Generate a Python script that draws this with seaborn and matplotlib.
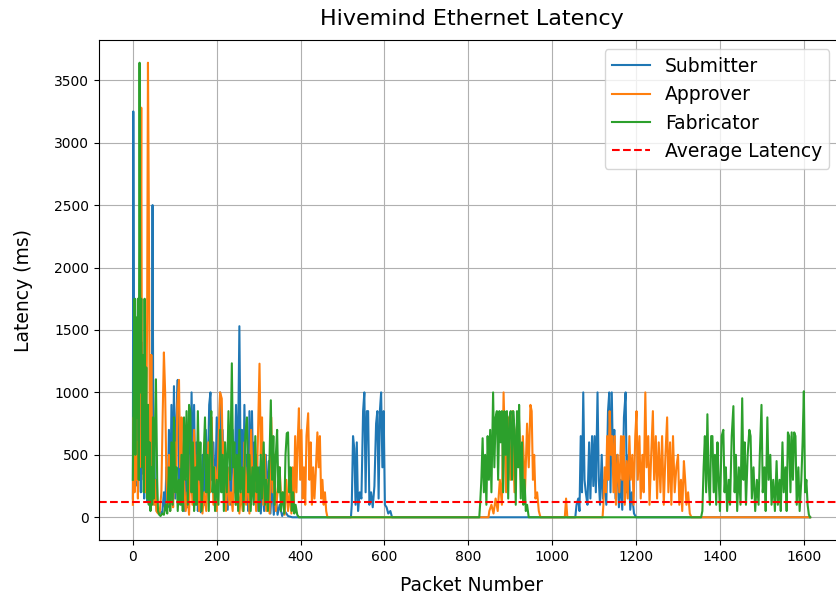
import matplotlib
matplotlib.use("Agg")
import matplotlib.pyplot as plt
import seaborn as sns
import pandas as pd

# (packet number, latency ms) samples
submitter_points = [
    (0, 150), (1, 3250), (3, 900), (5, 1750), (7, 400), (9, 1200), (11, 250), (13, 1600), (15, 300), (17, 900),
    (19, 200), (21, 1400), (23, 350), (25, 800), (27, 150), (29, 1100), (31, 300), (33, 600), (35, 120), (37, 900),
    (39, 200), (41, 500), (43, 150), (45, 400), (47, 2500), (49, 300), (51, 600), (53, 100), (55, 300), (57, 50),
    (60, 40), (63, 30), (66, 40), (70, 30), (74, 200), (77, 60), (80, 400), (83, 80), (86, 700), (89, 100),
    (92, 900), (95, 200), (98, 1050), (101, 150), (104, 800), (107, 1100), (110, 300), (113, 600), (116, 100),
    (119, 400), (122, 50), (126, 300), (130, 80), (134, 850), (137, 200), (140, 1000), (143, 300), (146, 900),
    (149, 100), (152, 600), (155, 50), (158, 300), (162, 40), (166, 500), (170, 100), (174, 700), (178, 200),
    (182, 900), (185, 1000), (188, 300), (192, 600), (196, 100), (200, 800), (204, 200), (208, 1000), (211, 400),
    (214, 700), (218, 100), (222, 500), (226, 60), (230, 400), (234, 100), (238, 700), (242, 200), (246, 900),
    (250, 300), (254, 1530), (257, 400), (260, 700), (263, 100), (266, 900), (269, 300), (272, 500), (275, 50),
    (278, 850), (281, 200), (284, 850), (287, 300), (290, 600), (293, 100), (296, 500), (299, 50), (302, 400),
    (305, 30), (309, 300), (313, 50), (317, 500), (320, 100), (324, 450), (328, 30), (332, 300), (336, 20),
    (340, 200), (345, 20), (350, 100), (356, 10), (362, 50), (370, 10), (380, 0), (520, 0),
    (522, 100), (525, 650), (528, 550), (531, 100), (534, 600), (537, 50), (541, 200), (545, 150), (549, 850),
    (552, 1000), (555, 200), (558, 850), (561, 850), (564, 100), (568, 200), (572, 80), (576, 250), (580, 750),
    (583, 850), (586, 150), (589, 850), (592, 1000), (595, 400), (598, 850), (601, 100), (605, 80), (609, 30),
    (614, 50), (618, 0), (1055, 0),
    (1058, 100), (1062, 150), (1065, 50), (1068, 650), (1071, 200), (1074, 1000), (1077, 300), (1080, 200),
    (1084, 100), (1088, 600), (1091, 150), (1095, 650), (1098, 250), (1101, 650), (1104, 200), (1108, 1000),
    (1111, 300), (1114, 100), (1118, 500), (1121, 150), (1125, 300), (1129, 100), (1133, 850), (1136, 1000),
    (1139, 200), (1142, 1000), (1145, 400), (1148, 700), (1151, 150), (1155, 500), (1159, 80), (1163, 300),
    (1167, 60), (1171, 800), (1175, 1000), (1178, 200), (1182, 500), (1186, 60), (1190, 200), (1195, 30),
    (1200, 0), (1615, 0),
]

approver_points = [
    (0, 100), (2, 800), (4, 200), (6, 1100), (8, 300), (10, 600), (12, 150), (14, 900), (16, 400), (18, 1500),
    (20, 3280), (22, 500), (24, 1200), (26, 300), (28, 1000), (30, 200), (32, 700), (34, 1600), (36, 3640),
    (38, 2500), (40, 900), (42, 400), (44, 1300), (46, 200), (48, 600), (50, 100), (53, 300), (56, 50), (60, 30),
    (64, 40), (68, 200), (71, 800), (74, 1320), (77, 1000), (80, 300), (83, 100), (86, 500), (89, 50), (93, 300),
    (96, 80), (100, 600), (103, 200), (106, 900), (110, 1100), (113, 400), (116, 800), (119, 100), (122, 300),
    (126, 50), (130, 200), (134, 20), (138, 500), (142, 100), (146, 700), (150, 200), (154, 500), (158, 50),
    (162, 300), (166, 30), (170, 200), (175, 50), (180, 600), (184, 200), (188, 800), (192, 100), (196, 400),
    (200, 50), (204, 600), (208, 1000), (212, 950), (215, 300), (218, 600), (222, 50), (226, 400), (230, 100),
    (234, 200), (238, 50), (242, 500), (246, 100), (250, 300), (254, 30), (258, 200), (262, 50), (266, 600),
    (270, 100), (274, 400), (278, 30), (282, 700), (286, 200), (290, 400), (294, 50), (298, 600), (302, 1230),
    (305, 500), (308, 800), (311, 100), (315, 500), (318, 50), (322, 300), (326, 30), (330, 800), (333, 200),
    (337, 500), (341, 50), (345, 200), (350, 400), (354, 100), (358, 200), (362, 20), (366, 300), (370, 50),
    (374, 200), (378, 30), (381, 400), (384, 100), (387, 650), (390, 200), (393, 600), (396, 873), (399, 300),
    (402, 700), (405, 150), (408, 400), (411, 100), (414, 650), (418, 833), (421, 300), (424, 600), (427, 100),
    (430, 400), (433, 150), (436, 350), (440, 680), (443, 400), (446, 650), (449, 150), (452, 300), (455, 100),
    (458, 200), (461, 50), (464, 0), (848, 0),
    (850, 50), (855, 100), (860, 30), (865, 150), (870, 50), (875, 300), (880, 100), (884, 1000), (887, 600),
    (890, 200), (895, 800), (900, 300), (905, 850), (910, 200), (915, 700), (920, 850), (925, 300), (930, 650),
    (935, 200), (940, 750), (944, 400), (948, 900), (951, 850), (954, 300), (957, 500), (960, 150), (964, 200),
    (968, 50), (972, 0), (1030, 0), (1033, 150), (1036, 0), (1120, 0),
    (1122, 100), (1125, 400), (1128, 200), (1131, 650), (1134, 300), (1137, 850), (1140, 500), (1143, 650),
    (1146, 200), (1149, 650), (1152, 100), (1156, 500), (1160, 200), (1164, 650), (1167, 300), (1170, 650),
    (1173, 100), (1177, 450), (1180, 150), (1184, 650), (1187, 300), (1191, 500), (1194, 100), (1198, 650),
    (1201, 850), (1204, 300), (1208, 650), (1211, 150), (1215, 500), (1218, 200), (1222, 1000), (1225, 400),
    (1229, 650), (1232, 100), (1236, 500), (1240, 850), (1243, 300), (1247, 650), (1250, 150), (1254, 600),
    (1258, 200), (1262, 650), (1266, 100), (1270, 500), (1274, 800), (1277, 200), (1281, 600), (1284, 100),
    (1288, 650), (1292, 200), (1296, 400), (1300, 500), (1303, 100), (1307, 300), (1310, 50), (1314, 450),
    (1317, 300), (1320, 100), (1324, 200), (1328, 30), (1332, 0), (1615, 0),
]

fabricator_points = [
    (0, 300), (2, 1200), (4, 1750), (6, 500), (8, 1600), (10, 800), (12, 1750), (14, 300), (16, 3640), (18, 1000),
    (20, 1750), (22, 400), (24, 1300), (26, 200), (28, 1750), (30, 500), (32, 1200), (34, 150), (36, 900),
    (38, 100), (40, 600), (42, 50), (44, 400), (46, 100), (48, 800), (50, 150), (52, 600), (55, 1105), (58, 300),
    (60, 50), (63, 20), (66, 10), (70, 30), (74, 20), (78, 100), (82, 30), (86, 400), (89, 50), (92, 600),
    (95, 100), (98, 800), (101, 200), (104, 400), (107, 50), (110, 300), (113, 100), (116, 500), (119, 50),
    (122, 800), (125, 300), (128, 850), (131, 100), (134, 900), (137, 850), (140, 200), (143, 600), (146, 50),
    (149, 400), (152, 100), (155, 850), (158, 300), (161, 600), (164, 50), (168, 400), (172, 800), (175, 200),
    (178, 500), (181, 50), (184, 600), (187, 850), (190, 200), (193, 400), (196, 50), (200, 300), (204, 100),
    (208, 700), (211, 200), (214, 500), (217, 50), (220, 600), (224, 200), (228, 850), (232, 300), (236, 1233),
    (239, 400), (242, 600), (245, 100), (248, 500), (251, 50), (254, 700), (257, 200), (261, 400), (264, 50),
    (268, 650), (272, 800), (275, 200), (278, 500), (281, 50), (285, 400), (288, 100), (292, 650), (295, 200),
    (298, 400), (301, 50), (305, 500), (308, 150), (312, 600), (315, 100), (318, 300), (322, 50), (326, 500),
    (329, 937), (332, 300), (335, 650), (338, 100), (341, 500), (344, 700), (347, 200), (350, 400), (353, 50),
    (357, 200), (361, 30), (364, 500), (367, 673), (370, 680), (373, 200), (376, 400), (379, 50), (382, 200),
    (385, 30), (388, 100), (392, 20), (396, 0), (826, 0),
    (828, 100), (831, 300), (834, 633), (837, 200), (840, 500), (843, 100), (846, 650), (849, 300), (852, 700),
    (855, 200), (859, 1000), (862, 400), (865, 800), (868, 850), (871, 300), (874, 850), (877, 600), (880, 850),
    (883, 200), (886, 850), (889, 500), (892, 850), (895, 150), (898, 800), (901, 850), (904, 300), (907, 850),
    (910, 700), (913, 100), (916, 850), (919, 400), (921, 900), (925, 150), (928, 600), (931, 100), (934, 300),
    (937, 50), (940, 100), (944, 0), (1355, 0),
    (1358, 50), (1361, 400), (1364, 650), (1367, 200), (1370, 825), (1373, 300), (1376, 100), (1379, 650),
    (1382, 650), (1385, 200), (1388, 500), (1391, 100), (1394, 600), (1397, 300), (1400, 50), (1404, 650),
    (1408, 700), (1411, 200), (1414, 400), (1417, 50), (1421, 300), (1424, 100), (1428, 650), (1432, 890),
    (1435, 200), (1438, 500), (1441, 50), (1445, 400), (1449, 100), (1453, 953), (1456, 300), (1459, 600),
    (1462, 100), (1466, 500), (1470, 700), (1473, 650), (1476, 150), (1480, 400), (1484, 50), (1488, 300),
    (1492, 100), (1495, 500), (1499, 900), (1502, 200), (1506, 400), (1509, 50), (1513, 800), (1516, 300),
    (1520, 500), (1523, 100), (1527, 300), (1531, 50), (1535, 450), (1538, 100), (1542, 300), (1545, 50),
    (1549, 600), (1552, 200), (1556, 400), (1559, 50), (1562, 680), (1565, 650), (1568, 200), (1571, 680),
    (1574, 300), (1577, 680), (1580, 650), (1583, 100), (1587, 400), (1590, 50), (1594, 300), (1597, 600),
    (1600, 1009), (1603, 200), (1606, 300), (1609, 100), (1612, 20), (1615, 0),
]

series_names = ["Submitter", "Approver", "Fabricator"]
series_points = [submitter_points, approver_points, fabricator_points]
series_colors = ["#1f77b4", "#ff7f0e", "#2ca02c"]
average_latency = 125

fig = plt.figure(figsize=(8.37, 6.01), dpi=100)
ax = fig.add_axes([99 / 837, 61 / 601, 745 / 837, 500 / 601])

for name, pts, col in zip(series_names, series_points, series_colors):
    df = pd.DataFrame(pts, columns=["packet", "latency"])
    sns.lineplot(data=df, x="packet", y="latency", ax=ax, color=col, label=name,
                 linewidth=1.5, sort=False, estimator=None)

ax.axhline(average_latency, color="red", linestyle="--", linewidth=1.5, label="Average Latency")

ax.set_title("Hivemind Ethernet Latency", fontsize=16, pad=11)
ax.set_xlabel("Packet Number", fontsize=13.5, labelpad=9)
ax.set_ylabel("Latency (ms)", fontsize=13.5, labelpad=15)
ax.tick_params(labelsize=10)
ax.grid(True)
ax.legend(loc="upper right", fontsize=13.5, bbox_to_anchor=(0.993, 1.0))

fig.savefig("out.png", dpi=100)
